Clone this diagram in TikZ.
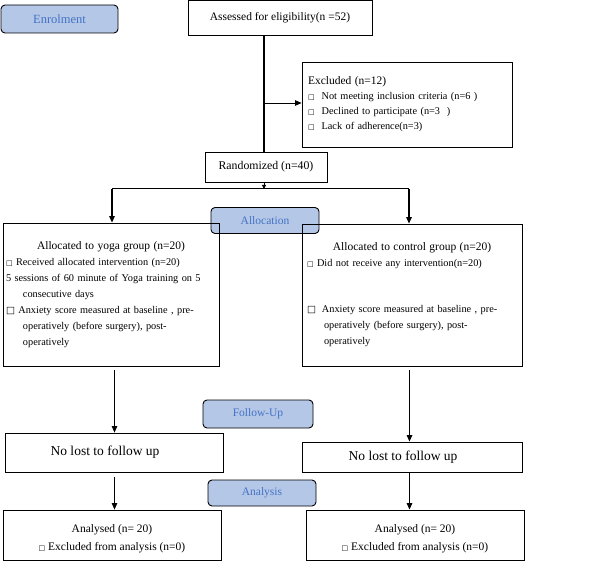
\documentclass[tikz,border=0pt]{standalone}
\usepackage{fontspec}
\setmainfont{Liberation Serif}
\newfontfamily\symfont{DejaVu Sans}
\usepackage{xcolor}
\usetikzlibrary{arrows.meta}

\definecolor{phasefill}{RGB}{180,199,231}
\definecolor{phasetext}{RGB}{68,114,196}
\newcommand{\sqbox}{{\symfont\fontsize{7}{7}\selectfont □}}
\newcommand{\bigsqbox}{{\symfont\fontsize{9.5}{9.5}\selectfont □}}
\newcommand{\headfont}{\fontsize{11.5}{16}\selectfont}

\begin{document}
\begin{tikzpicture}[
  x=1pt, y=-1pt,
  font=\fontsize{10.3}{16}\selectfont,
  box/.style={
    draw, line width=0.8pt, inner sep=3pt, align=center
  },
  listbox/.style={
    box, align=left, inner xsep=3pt
  },
  phase/.style={
    draw, line width=0.9pt, rounded corners=4pt, fill=phasefill,
    text=phasetext, minimum width=108, minimum height=26,
    font=\headfont
  },
  arr/.style={-{Triangle[length=6.5pt, width=5.5pt]}, line width=0.8pt},
  trunk/.style={line width=1.4pt}
]
\useasboundingbox (0,0) rectangle (605,561);

% Phase labels
\node[phase, minimum width=117, minimum height=28,
  font=\fontsize{12.5}{16}\selectfont] (enrol) at (59.5,19) {Enrolment};
\node[phase] (alloc) at (265,220.5) {Allocation};
\node[phase, minimum width=110, minimum height=28] (follow) at (258,414) {Follow-Up};
\node[phase] (analysis) at (262,493) {Analysis};

% Enrolment
\node[box, minimum width=184, minimum height=35, font=\headfont] (assess)
  at (280,17.5) {Assessed for eligibility(n =52)};
\node[listbox, minimum width=210, minimum height=85, text width=198,
  inner xsep=6pt] (excl) at (407,104.5) {%
{\headfont Excluded (n=12)}\\[-1pt]
\sqbox\hspace{7pt}Not meeting inclusion criteria (n=6 )\\[-1pt]
\sqbox\hspace{7pt}Declined to participate (n=3\ \ )\\[-1pt]
\sqbox\hspace{7pt}Lack of adherence(n=3)};
\node[box, minimum width=122, minimum height=30,
  font=\fontsize{11.8}{16}\selectfont] (rand) at (266,167)
  {Randomized (n=40)};

% Allocation
\node[listbox, minimum width=216, minimum height=143, text width=210]
  (yoga) at (111,294.5) {%
\makebox[\hsize][c]{\headfont Allocated to yoga group (n=20)}\\
\sqbox\ Received allocated intervention (n=20)\\
5 sessions of 60 minute of Yoga training on 5\\
\hspace*{17pt}consecutive days\\
\bigsqbox\ Anxiety score measured at baseline , pre-\\
\hspace*{17pt}operatively (before surgery), post-\\
\hspace*{17pt}operatively};
\node[listbox, minimum width=220, minimum height=142, text width=210,
  inner xsep=5pt] (control) at (412,295) {%
\makebox[\hsize][c]{\headfont Allocated to control group (n=20)}\\
\sqbox\ Did not receive any intervention(n=20)\\[30pt]
\bigsqbox\hspace{6pt}Anxiety score measured at baseline , pre-\\
\hspace*{17pt}operatively (before surgery), post-\\
\hspace*{17pt}operatively};

% Follow-up
\node[box, minimum width=218, minimum height=39,
  font=\fontsize{13.5}{16}\selectfont] (lostL) at (114,452.5)
  {No lost to follow up\hspace{18pt}};
\node[box, minimum width=220, minimum height=30,
  font=\fontsize{13.5}{16}\selectfont] (lostR) at (412,457)
  {No lost to follow up\hspace{18pt}};

% Analysis
\node[box, minimum width=218, minimum height=50, font=\headfont] (doneL)
  at (112,535) {%
\rule{0pt}{15pt}Analysed (n= 20)\\[2pt]
\sqbox\ Excluded from analysis (n=0)};
\node[box, minimum width=218, minimum height=50, font=\headfont] (doneR)
  at (415,535) {%
\rule{0pt}{15pt}Analysed (n= 20)\\[2pt]
\sqbox\ Excluded from analysis (n=0)};

% Columns for the connectors
\coordinate (mid) at (264,103);
\coordinate (split) at (264,189);
\coordinate (topL) at (112,189);
\coordinate (topR) at (409,189);
\coordinate (colL) at (114.5,0);
\coordinate (colR) at (409.5,0);

% Enrolment trunk
\draw[trunk] (assess.south -| mid) -- (rand.north -| mid);
\draw[arr] (mid) -- (mid -| excl.west);
\draw[-{Triangle[length=4pt, width=4pt]}, line width=0.8pt]
  (rand.south -| mid) -- (split);

% Split into the two groups
\draw[line width=1pt] (topL) -- (topR);
\draw[arr, line width=1.2pt] (topL) -- (topL |- yoga.north);
\draw[arr, line width=1.2pt] (topR) -- (topR |- control.north);

% Down to follow-up and analysis
\draw[arr, shorten <=4pt] (yoga.south -| colL) -- (lostL.north -| colL);
\draw[arr, line width=1.2pt, shorten <=4pt] (control.south -| colR) -- (lostR.north -| colR);
\draw[arr, shorten <=5pt] (lostL.south -| colL) -- (doneL.north -| colL);
\draw[arr, line width=1.2pt] (lostR.south -| colR) -- (doneR.north -| colR);

\end{tikzpicture}
\end{document}
